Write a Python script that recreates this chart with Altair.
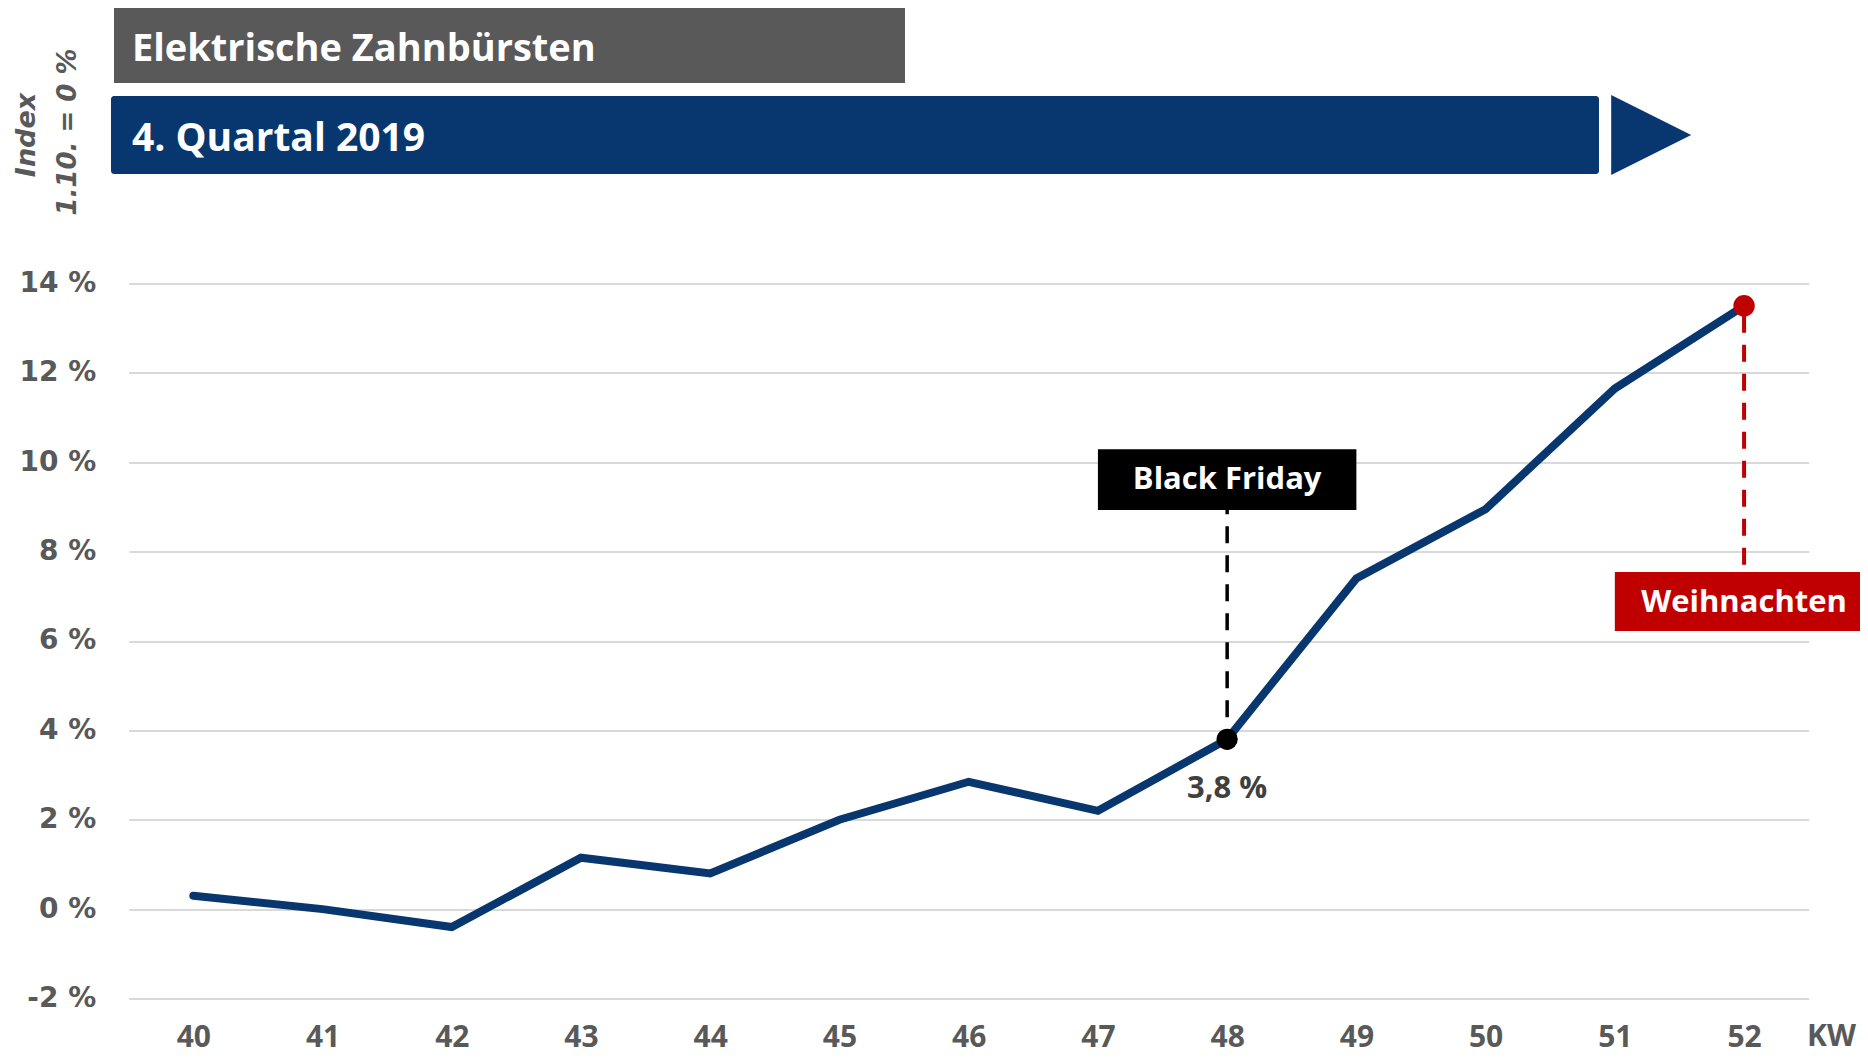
import altair as alt
import pandas as pd

# ---- data ----
weeks = [40, 41, 42, 43, 44, 45, 46, 47, 48, 49, 50, 51, 52]
values = [0.3, 0.0, -0.4, 1.15, 0.8, 2.0, 2.85, 2.2, 3.8, 7.4, 8.95, 11.65, 13.5]
y_ticks = [-2, 0, 2, 4, 6, 8, 10, 12, 14]
title_text = "Elektrische Zahnbürsten"
subtitle_text = "4. Quartal 2019"
ytitle_1 = "Index"
ytitle_2 = "1.10. = 0 %"
x_unit = "KW"
bf_week, bf_value, bf_label, bf_text = 48, 3.8, "Black Friday", "3,8 %"
xm_week, xm_value, xm_label = 52, 13.5, "Weihnachten"

# ---- layout ----
W, H = 1680, 715
PL, PT = 120.7, 275.5
BLUE = "#08376f"
GRAY = "#595959"
RED = "#c00000"
FONT = "Open Sans"

df = pd.DataFrame({"kw": weeks, "v": values})
one = pd.DataFrame({"a": [0]})

xscale = alt.Scale(domain=[39.5, 52.5], nice=False, zero=False)
yscale = alt.Scale(domain=[-2, 14], nice=False, zero=False)

x_axis = alt.Axis(values=weeks, format="d", title=None, grid=False, domain=False,
                  ticks=False, labelFont=FONT, labelFontWeight="bold", labelFontSize=30,
                  labelColor=GRAY, labelPadding=24)
y_axis = alt.Axis(values=y_ticks, labelExpr="datum.value + ' %'", title=None, grid=True,
                  gridColor="#d9d9d9", gridWidth=2, domain=False, ticks=False,
                  labelPadding=33, labelFont="DejaVu Sans", labelFontWeight="bold",
                  labelFontSize=28, labelColor=GRAY)

line = alt.Chart(df).mark_line(color=BLUE, strokeWidth=8, strokeCap="round").encode(
    x=alt.X("kw:Q", scale=xscale, axis=x_axis),
    y=alt.Y("v:Q", scale=yscale, axis=y_axis),
)

# Black Friday annotation
bf_df = pd.DataFrame({"kw": [bf_week], "v": [bf_value], "lab": [bf_label], "txt": [bf_text]})
bf_rule = alt.Chart(bf_df).mark_rule(color="black", strokeWidth=3.5, strokeDash=[17, 12],
                                     strokeDashOffset=7).encode(
    x=alt.X("kw:Q", scale=xscale), y=alt.Y("v:Q", scale=yscale), y2=alt.datum(8.93))
bf_box = alt.Chart(bf_df).mark_rect(color="black").encode(
    x=alt.datum(47.0, scale=xscale), x2=alt.datum(49.0),
    y=alt.datum(10.29, scale=yscale), y2=alt.datum(8.93))
bf_lab = alt.Chart(bf_df).mark_text(color="white", font=FONT, fontWeight="bold", fontSize=31,
                                    baseline="middle", align="center").encode(
    x=alt.X("kw:Q", scale=xscale), y=alt.datum(9.6, scale=yscale), text="lab:N")
bf_pt = alt.Chart(bf_df).mark_point(filled=True, color="black", size=450, opacity=1).encode(
    x=alt.X("kw:Q", scale=xscale), y=alt.Y("v:Q", scale=yscale))
bf_val = alt.Chart(bf_df).mark_text(color="#404040", font=FONT, fontWeight="bold", fontSize=31,
                                    baseline="middle", align="center").encode(
    x=alt.X("kw:Q", scale=xscale), y=alt.datum(2.68, scale=yscale), text="txt:N")

# Christmas annotation
xm_df = pd.DataFrame({"kw": [xm_week], "v": [xm_value], "lab": [xm_label]})
xm_rule = alt.Chart(xm_df).mark_rule(color=RED, strokeWidth=4, strokeDash=[17, 12],
                                     strokeDashOffset=19).encode(
    x=alt.X("kw:Q", scale=xscale), y=alt.Y("v:Q", scale=yscale), y2=alt.datum(7.70))
xm_box = alt.Chart(xm_df).mark_rect(color=RED).encode(
    x=alt.datum(51.0, scale=xscale), x2=alt.datum(53.0),
    y=alt.datum(7.545, scale=yscale), y2=alt.datum(6.225))
xm_lab = alt.Chart(xm_df).mark_text(color="white", font=FONT, fontWeight="bold", fontSize=31,
                                    baseline="middle", align="center").encode(
    x=alt.X("kw:Q", scale=xscale), y=alt.datum(6.86, scale=yscale), text="lab:N")
xm_pt = alt.Chart(xm_df).mark_point(filled=True, color=RED, size=460, opacity=1).encode(
    x=alt.X("kw:Q", scale=xscale), y=alt.Y("v:Q", scale=yscale))

# header boxes
gray_box = alt.Chart(one).mark_rect(color=GRAY).encode(
    x=alt.value(-14.7), x2=alt.value(776.3), y=alt.value(-275.5), y2=alt.value(-200.5))
gray_txt = alt.Chart(one).mark_text(text=title_text, color="white", font=FONT, fontWeight="bold",
                                    fontSize=38, align="left", baseline="middle").encode(
    x=alt.value(3.3), y=alt.value(-234))
blue_box = alt.Chart(one).mark_rect(color=BLUE, cornerRadius=3).encode(
    x=alt.value(-17.7), x2=alt.value(1470.3), y=alt.value(-187.5), y2=alt.value(-109.5))
blue_txt = alt.Chart(one).mark_text(text=subtitle_text, color="white", font=FONT, fontWeight="bold",
                                    fontSize=39, align="left", baseline="middle").encode(
    x=alt.value(3.3), y=alt.value(-144.5))
arrow = alt.Chart(one).mark_point(shape="M-1,-1L1,0L-1,1Z", filled=True, color=BLUE, opacity=1,
                                  size=6400, strokeWidth=0).encode(
    x=alt.value(1522.5), y=alt.value(-148.5))

# y-axis title lines
yt1 = alt.Chart(one).mark_text(text=ytitle_1, angle=270, color=GRAY, font="DejaVu Sans",
                               fontStyle="italic", fontWeight="bold", fontSize=27,
                               align="center", baseline="middle").encode(
    x=alt.value(-101.7), y=alt.value(-148.5))
yt2 = alt.Chart(one).mark_text(text=ytitle_2, angle=270, color=GRAY, font="DejaVu Sans",
                               fontStyle="italic", fontWeight="bold", fontSize=26,
                               align="center", baseline="middle").encode(
    x=alt.value(-60.7), y=alt.value(-151.5))

kw_txt = alt.Chart(one).mark_text(text=x_unit, color=GRAY, font=FONT, fontWeight="bold",
                                  fontSize=30, align="left", baseline="top").encode(
    x=alt.value(1678.3), y=alt.value(H + 24))

chart = alt.layer(
    line, bf_rule, xm_rule, bf_box, bf_lab, xm_box, xm_lab, bf_pt, xm_pt, bf_val,
    gray_box, gray_txt, blue_box, blue_txt, arrow, yt1, yt2, kw_txt,
).properties(
    width=W, height=H,
    autosize=alt.AutoSizeParams(type="none"),
    padding={"left": PL, "top": PT, "right": 51, "bottom": 56},
).configure_view(stroke=None)

chart.save("out.html", embed_options={"renderer": "svg", "actions": False})
